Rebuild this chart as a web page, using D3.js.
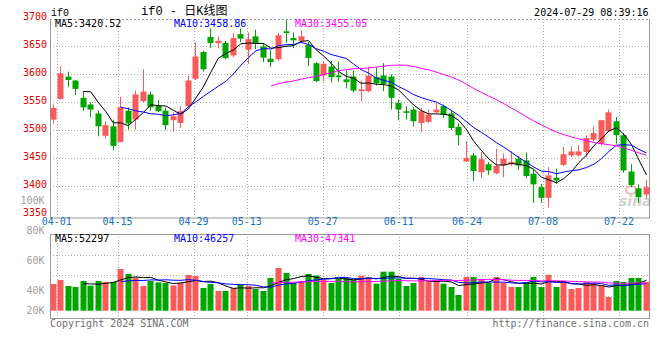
<!DOCTYPE html>
<html><head><meta charset="utf-8">
<script src="https://cdn.jsdelivr.net/npm/d3@7"></script>
<style>body{margin:0;background:#fff}svg{display:block}</style>
</head><body><svg id="c" width="660" height="360"></svg>
<script>
// ---- data ----
const opens  = [3519,3556,3596,3589,3558,3546,3530,3490,3507,3479,3535,3519,3552,3564,3544,3535,3518,3513,3543,3592,
                3640,3667,3656,3656,3634,3672,3644,3668,3650,3628,3627,3677,3665,3660,3653,3620,3598,3614,3598,3591,
                3596,3570,3570,3595,3598,3596,3549,3534,3537,3513,3515,3532,3543,3530,3506,3444,3455,3425,3439,3423,
                3437,3439,3449,3446,3422,3398,3379,3415,3438,3455,3455,3461,3483,3476,3498,3516,3491,3426,3396,3385];
const highs  = [3546,3614,3605,3590,3569,3550,3535,3516,3519,3560,3541,3571,3609,3569,3554,3541,3532,3543,3598,3657,
                3642,3682,3668,3660,3674,3682,3675,3680,3656,3643,3674,3697,3675,3679,3658,3622,3622,3624,3623,3607,
                3607,3589,3613,3612,3620,3600,3555,3543,3541,3540,3537,3549,3546,3535,3512,3480,3459,3461,3443,3467,
                3458,3463,3454,3460,3430,3404,3434,3431,3470,3471,3473,3491,3506,3518,3537,3524,3495,3439,3403,3411];
const lows   = [3512,3555,3577,3563,3535,3523,3489,3485,3464,3478,3501,3501,3550,3535,3532,3501,3497,3504,3541,3590,
                3605,3647,3647,3627,3631,3658,3619,3645,3622,3613,3624,3656,3647,3656,3615,3586,3588,3586,3587,3575,
                3568,3552,3568,3580,3570,3537,3518,3519,3507,3497,3513,3530,3522,3500,3473,3443,3409,3414,3420,3421,
                3416,3436,3429,3414,3370,3370,3362,3404,3436,3452,3453,3452,3480,3473,3497,3476,3424,3398,3370,3377];
const closes = [3540,3602,3590,3574,3541,3537,3507,3509,3472,3541,3512,3564,3569,3541,3534,3509,3525,3534,3589,3632,
                3609,3656,3660,3629,3665,3664,3663,3655,3630,3622,3670,3674,3661,3668,3629,3588,3619,3595,3595,3586,
                3571,3573,3598,3584,3583,3558,3537,3531,3516,3534,3528,3537,3528,3504,3491,3450,3427,3448,3428,3436,
                3449,3443,3437,3418,3403,3379,3419,3410,3457,3462,3462,3486,3495,3518,3532,3491,3428,3402,3380,3398];
const volumes = [45800,52600,42400,40600,50900,42900,50900,49200,49200,71500,62900,57100,42400,50900,48500,47500,43400,47500,61200,59500,
                 38900,45800,33800,33800,38900,44100,42400,37200,33800,56100,73200,64700,47500,50900,62900,60500,52600,47500,54900,56100,
                 53200,60000,57100,46300,66900,66900,54900,42400,47500,57800,50200,52000,46300,40600,26900,57800,57800,54400,47500,57800,
                 47500,40600,40600,49200,57800,40600,61200,40600,50900,37200,38900,49200,47500,43400,23500,50900,49200,56100,56100,49200];
const priceTicks = [3700,3650,3600,3550,3500,3450,3400,3350];
const volTicks = [100000,80000,60000,40000,20000];
const volTickLabels = ["100K","80K","60K","40K","20K"];
const dateTickDays = [0,8,18,25,35,45,54,64,74];
const dateTickLabels = ["04-01","04-15","04-29","05-13","05-27","06-11","06-24","07-08","07-22"];
const maPeriods = [5,10,30];
const maNames = ["MA5","MA10","MA30"];
const priceMaText = ["3420.52","3458.86","3455.05"];
const volMaText = ["52297","46257","47341"];

// ---- layout ----
const svg = d3.select("#c");
const mono = "'DejaVu Sans Mono', monospace";
const UP = "#fa5a5a", DOWN = "#00a500";
const maColors = ["#000000","#0000ff","#ff00ff"];
const P = {l:50, r:649.5, t:19, b:217.5};
const V = {l:50, r:649.5, t:234, b:318};

const n = closes.length;
const x = d3.scaleLinear().domain([0, n-1]).range([52.7, 646]);
const xDate = d3.scaleLinear().domain([0, 78]).range([56.7, 649.5]);
const y = d3.scaleLinear().domain([3350, 3700]).range([214, 18.5]);
const yV = d3.scaleLinear().domain([0, 131500]).range([310.7, 234]);
const yVLab = d3.scaleLinear().domain([20000, 100000]).range([320.5, 200]);

function ma(arr, p) {
  const out = [];
  for (let i = p-1; i < arr.length; i++) out.push({i, v: d3.mean(arr.slice(i-p+1, i+1))});
  return out;
}

const grid = {stroke:"#b0b0b0", dash:"1,2"};

// sina watermark (behind marks)
svg.append("ellipse").attr("cx",631).attr("cy",190).attr("rx",5).attr("ry",4)
  .attr("fill","none").attr("stroke","#f0b8b8").attr("stroke-width",2);
svg.append("text").attr("x",619).attr("y",206).text("sina")
  .attr("font-family","'DejaVu Sans', sans-serif").attr("font-style","italic").attr("font-weight","bold")
  .attr("font-size",14).attr("fill","#d2d2d2");

// price grid
svg.selectAll(".hg").data(priceTicks.filter(p => p > 3350 && p < 3700)).enter().append("line")
  .attr("x1",P.l).attr("x2",P.r).attr("y1",d=>Math.round(y(d))+0.5).attr("y2",d=>Math.round(y(d))+0.5)
  .attr("stroke",grid.stroke).attr("stroke-dasharray",grid.dash);
svg.append("line").attr("x1",P.l).attr("x2",P.r).attr("y1",P.t+0.5).attr("y2",P.t+0.5)
  .attr("stroke","#999").attr("stroke-dasharray","2,2");
dateTickDays.forEach(d => {
  const gx = Math.round(xDate(d)) + 0.5;
  svg.append("line").attr("x1",gx).attr("x2",gx).attr("y1",P.t).attr("y2",P.b)
    .attr("stroke",grid.stroke).attr("stroke-dasharray",grid.dash);
  svg.append("line").attr("x1",gx).attr("x2",gx).attr("y1",V.t).attr("y2",V.b)
    .attr("stroke",grid.stroke).attr("stroke-dasharray",grid.dash);
});
// price frame (left, right, bottom)
svg.append("path").attr("d",`M${P.l+0.5},${P.t}V${P.b+0.5}H${P.r}V${P.t}`)
  .attr("fill","none").attr("stroke","#999");

// volume grid + frame
[1,2,3].forEach(k => {
  const gy = Math.round(V.t + k*20.7) + 0.5;
  svg.append("line").attr("x1",V.l).attr("x2",V.r).attr("y1",gy).attr("y2",gy)
    .attr("stroke",grid.stroke).attr("stroke-dasharray",grid.dash);
});
svg.append("rect").attr("x",V.l+0.5).attr("y",V.t+0.5).attr("width",V.r-V.l-0.5).attr("height",V.b-V.t)
  .attr("fill","none").attr("stroke","#999");

// candles
const idx = d3.range(n);
const col = i => closes[i] >= opens[i] ? UP : DOWN;
const cxp = i => Math.round(x(i));
svg.selectAll(".wick").data(idx).enter().append("line")
  .attr("x1",i=>cxp(i)+0.5).attr("x2",i=>cxp(i)+0.5)
  .attr("y1",i=>y(highs[i])).attr("y2",i=>y(lows[i]))
  .attr("stroke",col).attr("stroke-width",1);
svg.selectAll(".body").data(idx).enter().append("rect")
  .attr("x",i=>cxp(i)-2.5).attr("width",6)
  .attr("y",i=>y(Math.max(opens[i],closes[i])))
  .attr("height",i=>Math.max(1, Math.abs(y(opens[i])-y(closes[i]))))
  .attr("fill",col);

// price MA lines
const lineP = d3.line().x(d=>x(d.i)+0.5).y(d=>y(d.v));
maPeriods.forEach((p,k) => {
  svg.append("path").datum(ma(closes,p)).attr("d",lineP)
    .attr("fill","none").attr("stroke",maColors[k]).attr("stroke-width",1);
});

// volume bars
svg.selectAll(".vol").data(idx).enter().append("rect")
  .attr("x",i=>cxp(i)-2.5).attr("width",6)
  .attr("y",i=>yV(volumes[i])).attr("height",i=>yV(0)-yV(volumes[i]))
  .attr("fill",col);
const lineV = d3.line().x(d=>x(d.i)+0.5).y(d=>yV(d.v));
maPeriods.forEach((p,k) => {
  svg.append("path").datum(ma(volumes,p)).attr("d",lineV)
    .attr("fill","none").attr("stroke",maColors[k]).attr("stroke-width",1);
});

// text
function txt(xp, yp, s, opt={}) {
  return svg.append("text").attr("x",xp).attr("y",yp).text(s)
    .attr("font-family",opt.family||mono).attr("font-size",opt.size||10)
    .attr("fill",opt.fill||"#000").attr("text-anchor",opt.anchor||"start");
}
priceTicks.forEach(p => txt(47, y(p)+1.5, p, {anchor:"end", fill:"#e60000"}));
volTicks.forEach((v,k) => txt(44.5, Math.min(yVLab(v), 310)+3.6, volTickLabels[k], {anchor:"end", fill:"#a0a0a0"}));
dateTickDays.forEach((d,k) => txt(xDate(d), 224.5, dateTickLabels[k], {anchor:"middle", fill:"#1a70c8"}));

const hx = [55, 174, 295];
maNames.forEach((m,k) => {
  txt(hx[k], 27, m + ":" + priceMaText[k], {fill: maColors[k]});
  txt(hx[k], 241.5, m + ":" + volMaText[k], {fill: maColors[k]});
});
txt(51, 16, "if0", {family:"'Liberation Mono', monospace"});
txt(141, 15, "if0 - 日K线图", {family:"'Liberation Mono','Noto Sans CJK SC', monospace", size:12});
txt(648.5, 16, "2024-07-29 08:39:16", {anchor:"end"});
txt(50, 326.5, "Copyright 2024 SINA.COM", {fill:"#707070"});
txt(649, 326.5, "http://finance.sina.com.cn", {anchor:"end", fill:"#707070"});
</script></body></html>
